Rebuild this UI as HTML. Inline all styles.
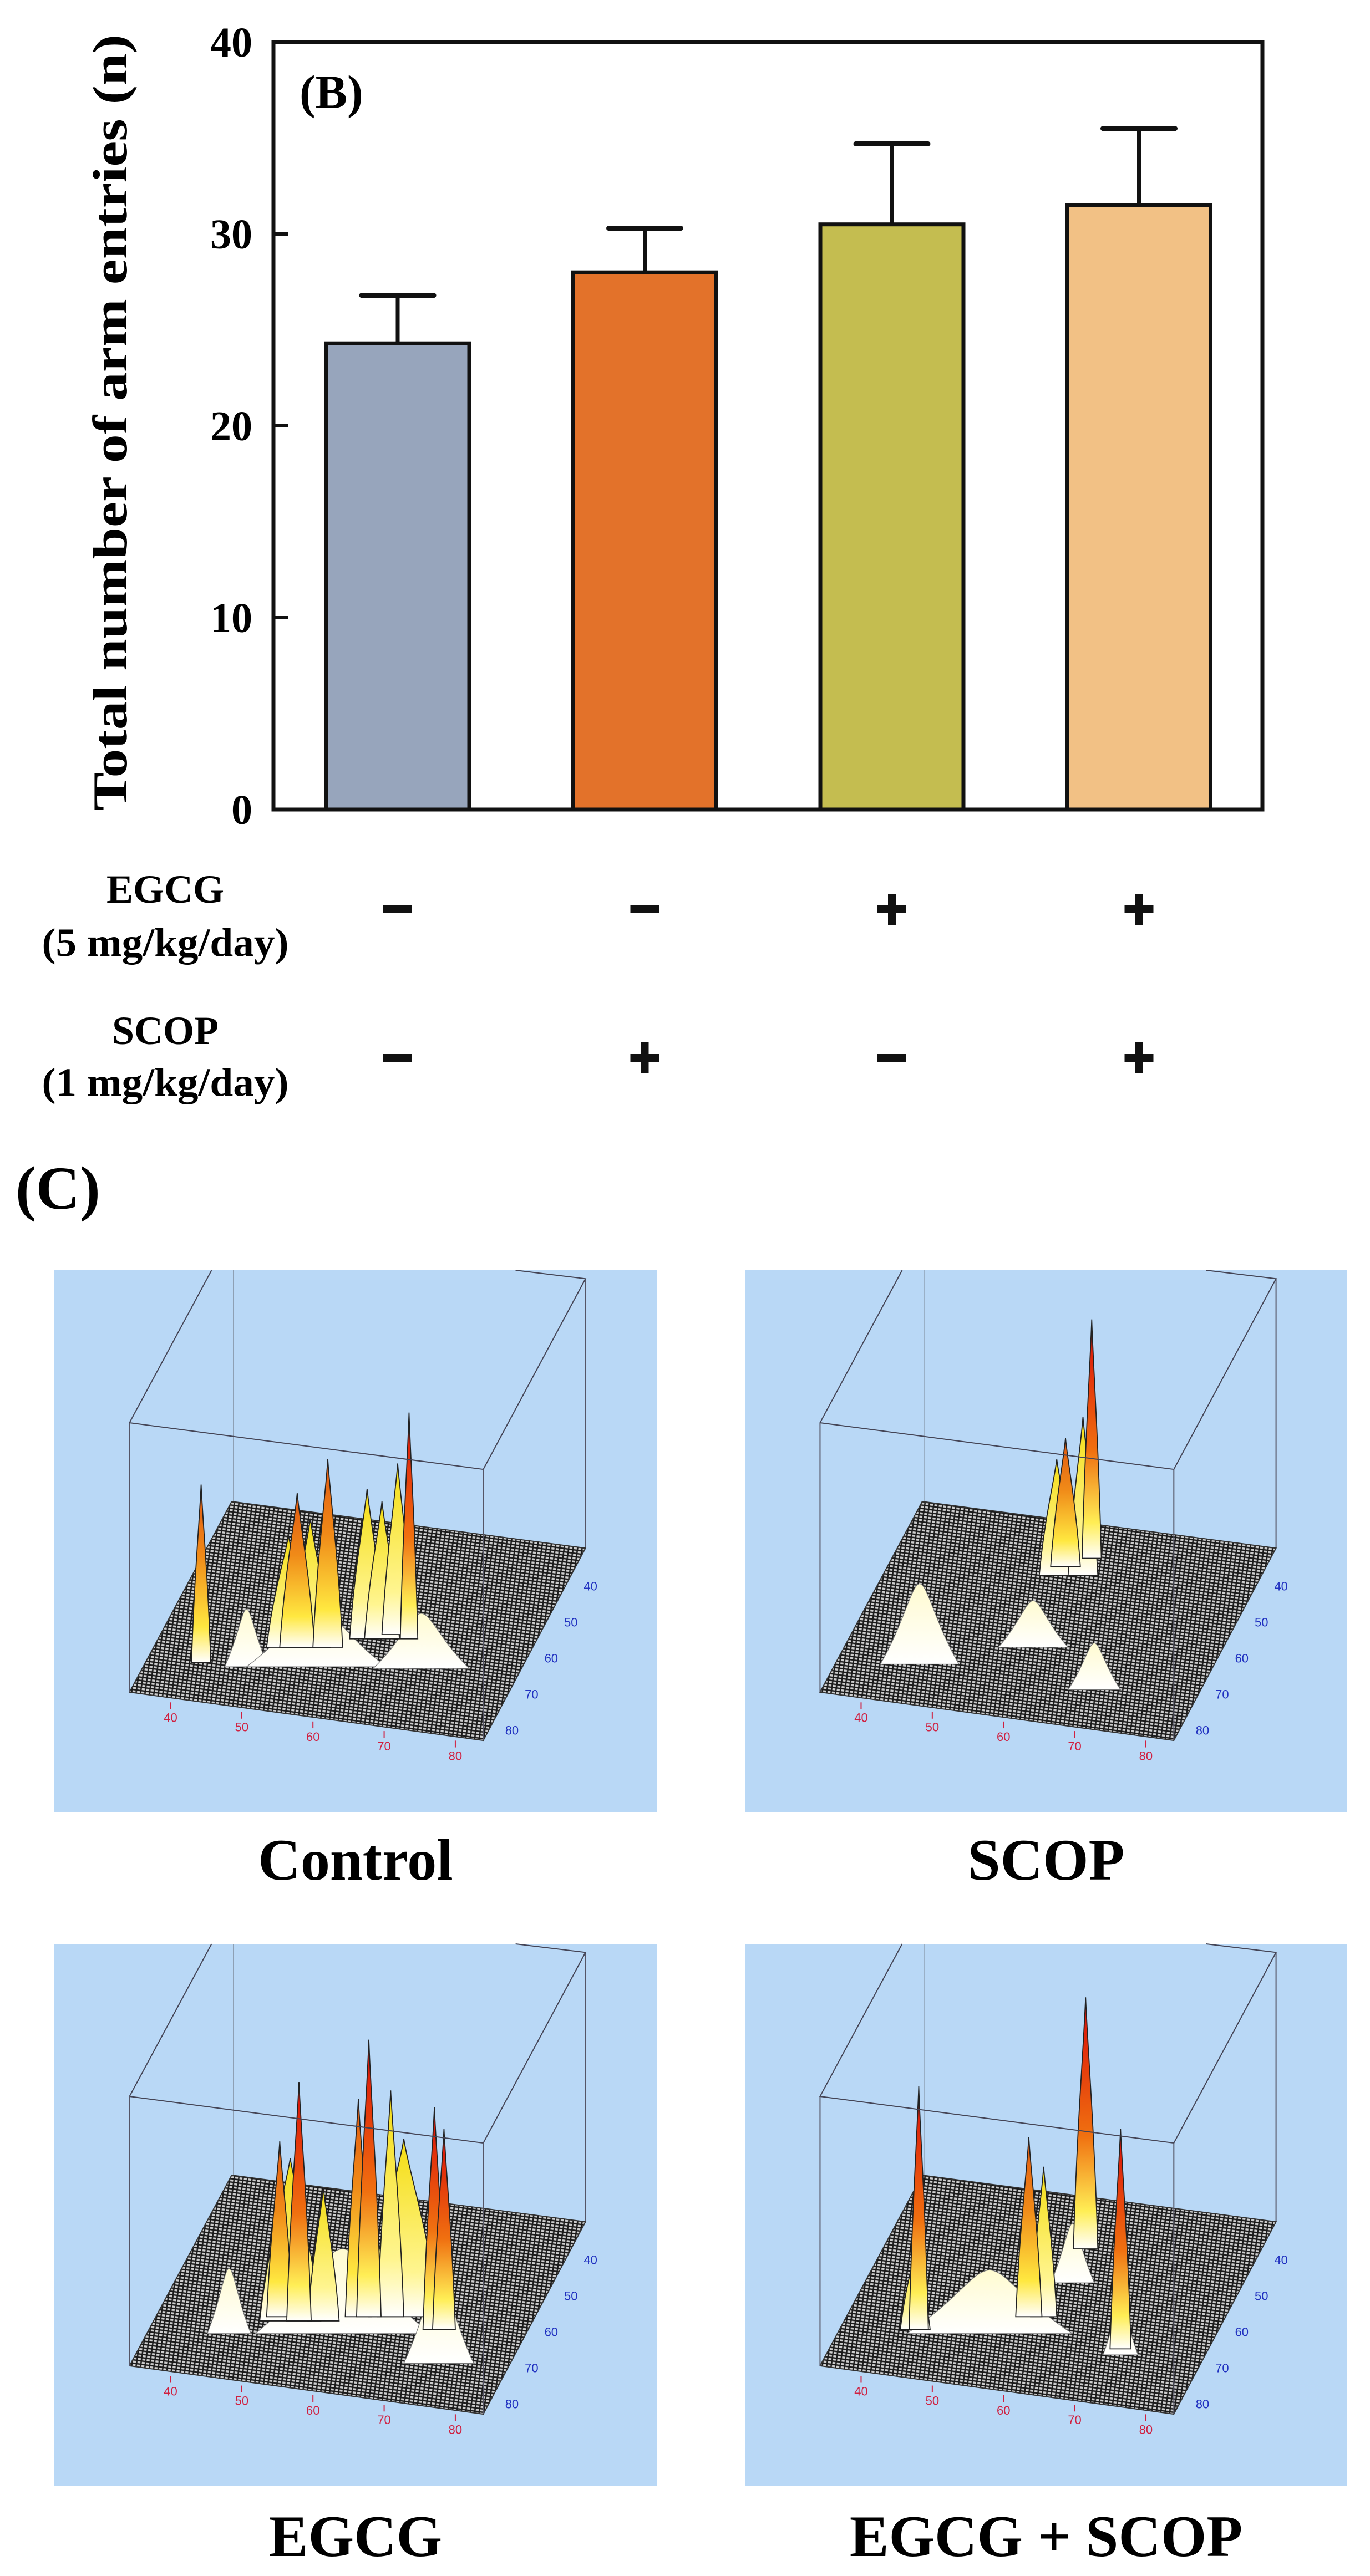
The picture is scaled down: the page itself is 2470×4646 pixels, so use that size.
<!DOCTYPE html>
<html><head><meta charset="utf-8"><style>
html,body{margin:0;padding:0;background:#fff;}
svg{display:block;}
</style></head><body>
<svg id="fig" width="2470" height="4646" viewBox="0 0 2470 4646" xmlns="http://www.w3.org/2000/svg" font-family="'Liberation Serif', serif">
<defs>
<pattern id="mesh" width="8" height="6" patternUnits="userSpaceOnUse" patternTransform="rotate(8)">
<rect width="8" height="6" fill="#cfcfcf"/>
<path d="M0 3H8M4 0V6" stroke="#1a1a1a" stroke-width="2.6"/>
</pattern>
<linearGradient id="gRed" x1="0" y1="1" x2="0" y2="0"><stop offset="0" stop-color="#fff"/><stop offset="0.15" stop-color="#ffee55"/><stop offset="0.45" stop-color="#f07010"/><stop offset="1" stop-color="#d80808"/></linearGradient>
<linearGradient id="gOrange" x1="0" y1="1" x2="0" y2="0"><stop offset="0" stop-color="#fff"/><stop offset="0.2" stop-color="#ffe840"/><stop offset="0.6" stop-color="#f08a18"/><stop offset="1" stop-color="#e05510"/></linearGradient>
<linearGradient id="gYellow" x1="0" y1="1" x2="0" y2="0"><stop offset="0" stop-color="#fff"/><stop offset="0.25" stop-color="#fff590"/><stop offset="1" stop-color="#f4dc10"/></linearGradient>
<linearGradient id="gWhite" x1="0" y1="1" x2="0" y2="0"><stop offset="0" stop-color="#fff"/><stop offset="1" stop-color="#fffbd0"/></linearGradient>
</defs>
<g id="chartB"></g>
<g id="panelC"></g>
</svg>
<script>
// ---- Bar chart data ----
const groups = ["Control", "SCOP", "EGCG", "EGCG + SCOP"];
const means = [24.3, 28.0, 30.5, 31.5];
const errs = [2.5, 2.3, 4.2, 4.0];
const yTicks = [0, 10, 20, 30, 40];
const barColors = ["#97a5bc", "#e3722a", "#c4bd50", "#f2c185"];
const egcgSigns = ["-", "-", "+", "+"];
const scopSigns = ["-", "+", "-", "+"];

const NS = "http://www.w3.org/2000/svg";
function mk(tag, attrs, parent, text) {
  const e = document.createElementNS(NS, tag);
  for (const k in attrs) e.setAttribute(k, attrs[k]);
  if (text !== undefined) e.textContent = text;
  parent.appendChild(e);
  return e;
}
const plot = {x0: 493, x1: 2276, y0: 1460, y1: 76, yMax: 40};
function yScale(v) { return plot.y0 - (v / plot.yMax) * (plot.y0 - plot.y1); }
const barCenters0 = 717, barStep = 445.5, barW = 258;
function xScale(i) { return barCenters0 + i * barStep; }

const B = document.getElementById("chartB");
let t = mk("text", {x: 0, y: 0, transform: "translate(228,762) rotate(-90)", "text-anchor": "middle", "font-size": 88, "font-weight": "bold", textLength: 1400, lengthAdjust: "spacingAndGlyphs"}, B, "Total number of arm entries (n)");


yTicks.forEach(v => {
  const y = yScale(v);
  const tk = mk("line", {x1: plot.x0, x2: plot.x0 + 26, y1: y, y2: y, stroke: "#111", "stroke-width": 6}, B);
  
  
  const lb = mk("text", {x: 455, y: y + 26, "text-anchor": "end", "font-size": 76, "font-weight": "bold"}, B, String(v));
  
  
});
means.forEach((m, i) => {
  const cx = xScale(i);
  const top = yScale(m), et = yScale(m + errs[i]);
  const eb = mk("line", {x1: cx, x2: cx, y1: top, y2: et, stroke: "#111", "stroke-width": 7}, B);
  
  
  const cap = mk("line", {x1: cx - 65, x2: cx + 65, y1: et, y2: et, stroke: "#111", "stroke-width": 9, "stroke-linecap": "round"}, B);
  
  
  const r = mk("rect", {x: cx - barW / 2, y: top, width: barW, height: plot.y0 - top, fill: barColors[i], stroke: "#111", "stroke-width": 7}, B);
  
  
});
const fr = mk("rect", {x: plot.x0, y: plot.y1, width: plot.x1 - plot.x0, height: plot.y0 - plot.y1, fill: "none", stroke: "#111", "stroke-width": 7}, B);


const bl = mk("text", {x: 540, y: 195, "font-size": 86, "font-weight": "bold"}, B, "(B)");



function rowLabel(l1, l2, y1, y2, name) {
  const a = mk("text", {x: 298, y: y1, "text-anchor": "middle", "font-size": 72, "font-weight": "bold"}, B, l1);
  
  
  const b = mk("text", {x: 298, y: y2, "text-anchor": "middle", "font-size": 72, "font-weight": "bold", textLength: 445, lengthAdjust: "spacingAndGlyphs"}, B, l2);
  
  
}
rowLabel("EGCG", "(5 mg/kg/day)", 1628, 1724, "egcg");
rowLabel("SCOP", "(1 mg/kg/day)", 1883, 1976, "scop");
function sign(s, i, y, name) {
  const cx = xScale(i);
  const g = mk("g", {}, B);
  
  
  mk("rect", {x: cx - 26, y: y - 7, width: 52, height: 14, fill: "#111"}, g);
  if (s === "+") mk("rect", {x: cx - 7, y: y - 28, width: 14, height: 56, fill: "#111"}, g);
}
egcgSigns.forEach((s, i) => sign(s, i, 1640, 'egcg-sign'));
scopSigns.forEach((s, i) => sign(s, i, 1908, 'scop-sign'));
const cl = mk("text", {x: 28, y: 2180, "font-size": 110, "font-weight": "bold"}, B, "(C)");



// ---- Panel C data (peaks: x, base y, top y, width, colour) ----
const panelNames = ["Control", "SCOP", "EGCG", "EGCG + SCOP"];
const panelOrigins = [[98, 2291], [1343, 2291], [98, 3506], [1343, 3506]];
const peaksControl = [
  [220,468,400,50,"W"],[300,468,395,160,"W"],[420,470,405,110,"W"],
  [268,445,313,50,"Y"],[293,445,293,45,"Y"],[358,435,258,40,"Y"],[375,435,273,40,"Y"],[393,430,228,36,"Y"],
  [168,463,253,22,"O"],[278,445,263,40,"O"],[313,445,223,34,"O"],[406,435,168,20,"R"]];
const peaksScop = [
  [200,465,370,90,"W"],[330,445,390,80,"W"],[400,495,440,60,"W"],
  [357,360,223,40,"Y"],[387,360,173,34,"Y"],[367,350,198,34,"O"],[397,340,58,22,"R"]];
const peaksEgcg = [
  [200,460,383,50,"W"],[330,460,360,200,"W"],[440,495,390,80,"W"],
  [270,445,253,70,"Y"],[400,440,230,80,"Y"],[308,445,288,36,"Y"],[385,440,173,30,"Y"],
  [258,440,233,30,"O"],[348,440,183,30,"O"],
  [280,445,163,28,"R"],[360,440,113,28,"R"],[435,455,193,26,"R"],[446,455,218,26,"R"]];
const peaksEgcgScop = [
  [280,460,385,190,"W"],[375,400,330,50,"W"],[430,485,420,40,"W"],
  [195,455,360,34,"Y"],[342,440,263,30,"Y"],[325,440,228,30,"O"],
  [199,455,168,22,"R"],[390,360,63,28,"R"],[430,478,218,24,"R"]];
const panelPeaks = [peaksControl, peaksScop, peaksEgcg, peaksEgcgScop];
const xTickLabels = ["40","50","60","70","80"];

const sx = 1.575, sy = 1.528;
const fills = {W: "url(#gWhite)", Y: "url(#gYellow)", O: "url(#gOrange)", R: "url(#gRed)"};
const C = document.getElementById("panelC");
panelNames.forEach((nm, p) => {
  const [ox, oy] = panelOrigins[p];
  const g = mk("g", {transform: `translate(${ox},${oy})`}, C);
  
  
  mk("rect", {x: 0, y: 0, width: 1086, height: 977, fill: "#b9d8f6"}, g);
  const P = (x, y) => `${x * sx},${y * sy}`;
  mk("line", {x1: 205*sx, y1: 0, x2: 205*sx, y2: 273*sy, stroke: "#8899aa", "stroke-width": 1.5}, g);
  mk("line", {x1: 608*sx, y1: 10*sy, x2: 608*sx, y2: 328*sy, stroke: "#556", "stroke-width": 2}, g);
  const fl = mk("polygon", {points: [P(86,498),P(491,555),P(608,328),P(203,273)].join(" "), fill: "url(#mesh)", stroke: "#333", "stroke-width": 2}, g);
  
  
  panelPeaks[p].forEach(pk => {
    const [x, b, tp, w, c] = pk;
    const h = b - tp;
    const d = c === "W"
      ? `M${(x - w/2)*sx},${b*sy} C${(x - w*0.2)*sx},${(b - h*0.5)*sy} ${(x - w*0.1)*sx},${tp*sy} ${x*sx},${tp*sy} C${(x + w*0.1)*sx},${tp*sy} ${(x + w*0.2)*sx},${(b - h*0.5)*sy} ${(x + w/2)*sx},${b*sy} Z`
      : `M${(x - w/2)*sx},${b*sy} C${(x - w*0.35)*sx},${(b - h*0.5)*sy} ${(x - w*0.08)*sx},${(tp + h*0.2)*sy} ${x*sx},${tp*sy} C${(x + w*0.08)*sx},${(tp + h*0.2)*sy} ${(x + w*0.35)*sx},${(b - h*0.5)*sy} ${(x + w/2)*sx},${b*sy} Z`;
    const e = mk("path", {d: d, fill: fills[c], stroke: c === "W" ? "#777" : "#222", "stroke-width": c === "W" ? 1.2 : 1.8}, g);
    
    
  });
  mk("polyline", {points: [P(180,0),P(86,180),P(491,235),P(608,10),P(528,0)].join(" "), fill: "none", stroke: "#445", "stroke-width": 2}, g);
  mk("line", {x1: 86*sx, y1: 180*sy, x2: 86*sx, y2: 498*sy, stroke: "#556", "stroke-width": 2}, g);
  mk("line", {x1: 491*sx, y1: 235*sy, x2: 491*sx, y2: 555*sy, stroke: "#556", "stroke-width": 2}, g);
  xTickLabels.forEach((l, i) => {
    const x = 133 + i * 81.5, y = 528 + i * 11.3;
    mk("line", {x1: x*sx, y1: (y-18)*sy, x2: x*sx, y2: (y-10)*sy, stroke: "#d02040", "stroke-width": 2}, g);
    const tx = mk("text", {x: x*sx, y: (y+5)*sy, "text-anchor": "middle", "font-size": 22, fill: "#d02040", "font-family": "'Liberation Sans', sans-serif"}, g, l);
    
    
    const bx = 606 - i * 22.5, by = 373 + i * 42.5;
    const ty = mk("text", {x: bx*sx, y: (by+5)*sy, "font-size": 22, fill: "#2030c0", "font-family": "'Liberation Sans', sans-serif"}, g, l);
    
    
  });
  const lab = mk("text", {x: 543, y: p < 2 ? 1099 : 1104, "text-anchor": "middle", "font-size": 106, "font-weight": "bold"}, g, nm);
  
  
});
</script>
</body></html>
